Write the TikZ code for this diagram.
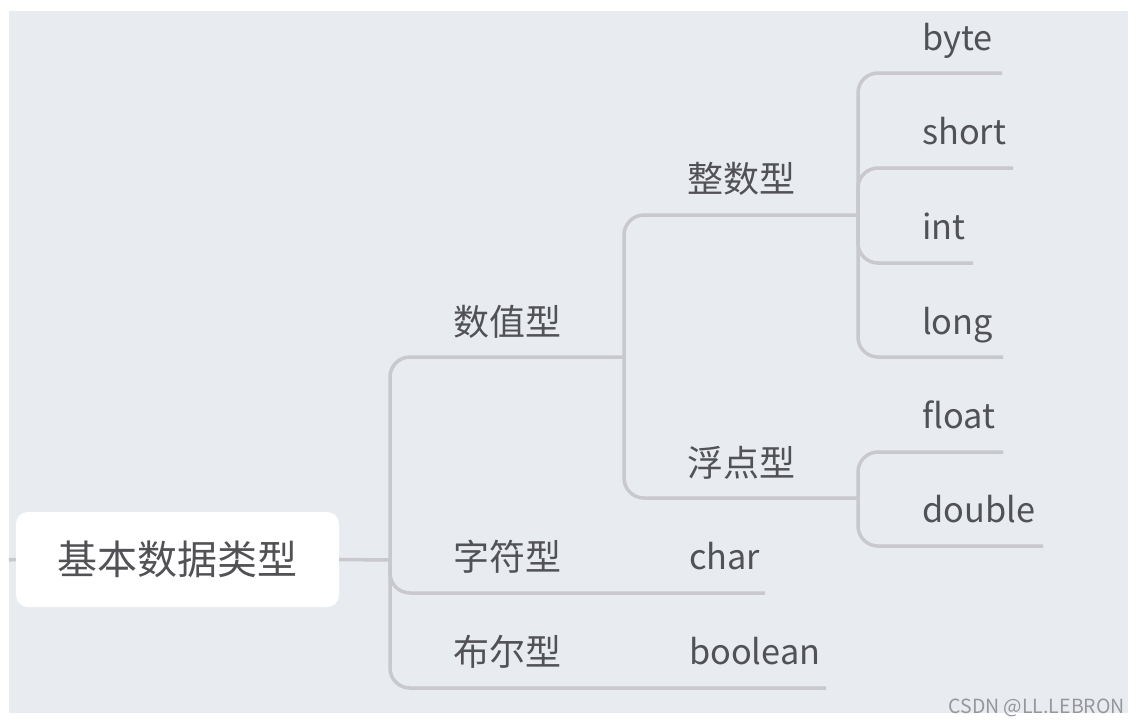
\documentclass[tikz,border=0pt]{standalone}
\usepackage{fontspec}
\setmainfont{Noto Sans CJK SC}
\usepackage{tikz}
\definecolor{bgcol}{RGB}{232,236,240}
\definecolor{linecol}{RGB}{200,200,205}
\definecolor{txtcol}{RGB}{82,82,86}
\definecolor{markcol}{RGB}{150,150,155}

\begin{document}
\begin{tikzpicture}[x=1pt,y=-1pt,
  branch/.style={draw=linecol, line width=3.5pt, rounded corners=20pt},
  lbl/.style={anchor=base west, inner sep=0pt, text=txtcol, font=\fontsize{36}{40}\selectfont},
  word/.style={lbl, font=\fontsize{34.3}{40}\selectfont}]
\useasboundingbox (0,0) rectangle (1138,724);
\fill [white] (0,0) rectangle (1138,724);
\fill [bgcol] (9,11) rectangle (1128,713);
% root
\node [fill=white, rounded corners=12pt, minimum width=323pt, minimum height=95pt,
  text=txtcol, font=\fontsize{40}{44}\selectfont] (root) at (177.5,559.5) {基本数据类型};
% line ends
\coordinate (stub) at (9,560);
\coordinate (j0) at (390,560);
\coordinate (num-end) at (624,357);
\coordinate (chr-end) at (765,593);
\coordinate (bool-end) at (826,688);
\coordinate (int-end) at (858,215);
\coordinate (flt-end) at (858,498);
\coordinate (byte-end) at (1002,73);
\coordinate (short-end) at (1013,168);
\coordinate (intl-end) at (973,263);
\coordinate (long-end) at (1003,357);
\coordinate (float-end) at (1003,452);
\coordinate (double-end) at (1043,546);
% labels
\node [lbl] (num) at (453,335) {数值型};
\node [lbl] (chr) at (453,570) {字符型};
\node [lbl] (bool) at (453,665) {布尔型};
\node [lbl] (int) at (687,192) {整数型};
\node [lbl] (flt) at (687,476) {浮点型};
\node [word] (char) at (689,569) {char};
\node [word] (boolean) at (689,664) {boolean};
\node [word] (byte) at (922,50) {byte};
\node [word] (short) at (922,144) {short};
\node [word] (intl) at (922,239) {int};
\node [word] (long) at (922,334) {long};
\node [word] (float) at (922,428) {float};
\node [word] (double) at (922,522) {double};
% branches
\draw [branch] (root.west) -- (stub);
\draw [branch] (root.east) -- (j0);
\draw [branch] (j0) |- (num-end);
\draw [branch] (j0) |- (chr-end);
\draw [branch] (j0) |- (bool-end);
\draw [branch] (num-end) |- (int-end);
\draw [branch] (num-end) |- (flt-end);
\draw [branch] (int-end) |- (byte-end);
\draw [branch] (int-end) |- (short-end);
\draw [branch] (int-end) |- (intl-end);
\draw [branch] (int-end) |- (long-end);
\draw [branch] (flt-end) |- (float-end);
\draw [branch] (flt-end) |- (double-end);
\node [anchor=base east, inner sep=0pt, text=markcol, font=\fontsize{19.5}{22}\selectfont] (mark) at (1125,713) {CSDN @LL.LEBRON};
\end{tikzpicture}
\end{document}
